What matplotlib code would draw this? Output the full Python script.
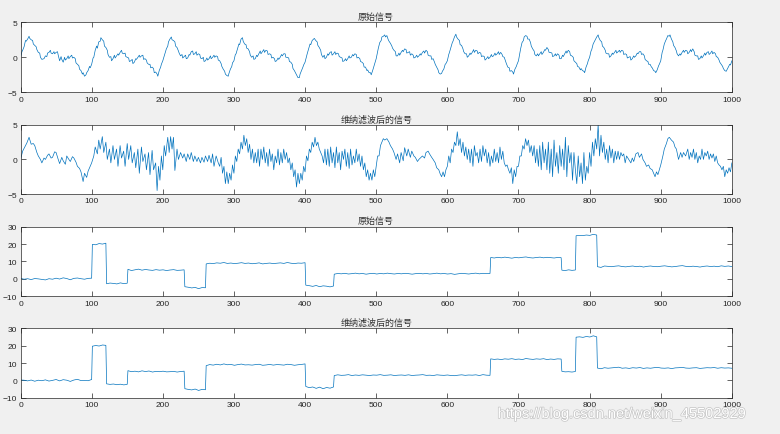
import numpy as np
import matplotlib
matplotlib.use('Agg')
import matplotlib.pyplot as plt
import matplotlib.patheffects as pe

plt.rcParams['font.family'] = ['Liberation Sans', 'Noto Sans CJK SC', 'DejaVu Sans']

titles = ['原始信号', '维纳滤波后的信号', '原始信号', '维纳滤波后的信号']
x_ticks = [0, 100, 200, 300, 400, 500, 600, 700, 800, 900, 1000]
y_ticks_small = [-5, 0, 5]
y_ticks_big = [-10, 0, 10, 20, 30]

# ---- signal 1 (original periodic signal): (sample, value)
sig1_pts = [(0,0),(2,0.8),(3,1.0),(5,1.5),(7,2.4),(8,2.3),(10,2.6),(12,3.0),(13,2.7),(15,2.5),(17,2.4),(18,1.9),
(20,1.7),(22,1.5),(23,1.1),(25,0.7),(27,0.6),(28,0.0),(30,-0.3),(33,-0.2),(35,0.2),(37,0.1),(38,0.6),(40,0.7),
(42,1.0),(43,0.6),(45,0.5),(47,0.8),(48,0.5),(50,0.7),(52,0.8),(53,0.3),(55,-0.5),(57,0.1),(58,-0.3),(60,-0.7),
(62,0.0),(63,-0.4),(65,-0.2),(67,0.2),(68,-0.2),(70,0.1),(72,0.3),(73,-0.1),(75,0.0),(77,-0.2),(78,-0.8),
(80,-1.0),(82,-1.2),(83,-1.7),(85,-1.9),(87,-2.4),(88,-2.2),(90,-2.7),(92,-2.5),(93,-2.2),(95,-1.9),(97,-1.3),
(98,-1.5),(100,-1.0),(102,-0.1),(103,0.0),(105,1.0),(107,1.6),(108,1.3),(110,2.2),(112,2.3),(113,2.8),(115,2.5),
(117,2.3),(118,1.6),(120,1.4),(122,1.0),(123,0.4),(125,0.0),(127,0.1),(128,-0.5),(130,-0.2),(132,0.3),(133,-0.1),
(135,0.2),(137,0.5),(138,0.3),(140,0.7),(142,1.0),(143,0.6),(145,0.5),(147,0.6),(148,0.1),(150,0.0),(152,-0.1),
(153,-0.6),(155,-0.5),(157,-0.3),(158,-0.9),(160,-0.7),(162,-0.2),(163,-0.3),(165,0.0),(167,0.3),(168,0.0),
(170,0.2),(172,0.3),(173,-0.3),(175,-0.2),(177,-0.4),(178,-0.8),(180,-1.0),(182,-1.0),(183,-1.5),(185,-1.4),
(187,-1.6),(188,-2.2),(190,-2.1),(192,-2.4),(193,-2.7),(195,-1.9),(197,-1.4),(198,-1.0),(200,-0.5),(202,0.2),
(203,0.5),(205,1.2),(207,1.6),(208,2.2),(210,2.6),(212,2.9),(213,2.5),(215,2.4),(217,2.2),(218,1.6),(220,1.4),
(222,0.9),(223,0.6),(225,0.2),(227,0.4),(228,-0.1),(230,0.1),(232,0.3),(233,-0.2),(235,-0.1),(237,0.4),(238,0.3),
(240,0.8),(242,0.9),(243,0.4),(245,0.5),(247,0.8),(248,0.3),(250,0.5),(252,0.4),(253,-0.1),(255,-0.2),(257,0.0),
(258,-0.6),(260,-0.5),(262,-0.1),(263,-0.4),(265,-0.2),(267,0.2),(268,-0.2),(270,0.0),(272,0.3),(273,0.0),
(275,0.2),(277,0.1),(278,-0.4),(280,-0.5),(282,-0.9),(283,-1.3),(285,-1.7),(287,-2.0),(288,-2.4),(290,-2.6),
(292,-2.7),(293,-2.3),(295,-1.7),(297,-1.3),(298,-0.8),(300,-0.5),(302,0.4),(303,0.5),(305,1.2),(307,1.9),
(308,1.8),(310,2.6),(312,2.8),(313,2.3),(315,1.9),(317,1.8),(318,1.3),(320,1.2),(322,0.8),(323,0.3),(325,0.0),
(327,0.2),(328,-0.3),(330,-0.2),(332,0.3),(333,0.1),(335,0.5),(337,0.9),(338,0.5),(340,0.8),(342,1.1),(343,0.7),
(345,1.0),(347,0.9),(348,0.4),(350,0.5),(352,0.4),(353,-0.1),(355,0.0),(357,-0.2),(358,-0.6),(360,-0.5),
(362,-0.1),(363,-0.3),(365,0.0),(367,0.4),(368,0.2),(370,0.5),(372,0.5),(373,0.0),(375,0.0),(377,-0.1),
(378,-0.6),(380,-0.7),(382,-1.0),(383,-1.6),(385,-1.9),(387,-2.3),(388,-2.5),(390,-2.9),(392,-2.9),(393,-2.4),
(395,-1.9),(397,-1.4),(398,-1.1),(400,-0.7),(402,0.1),(403,0.5),(405,1.2),(407,1.9),(408,1.8),(410,2.4),
(412,2.6),(413,2.7),(415,2.4),(417,2.2),(418,1.7),(420,1.4),(422,1.0),(423,0.4),(425,0.0),(427,0.3),(428,-0.2),
(430,0.0),(432,0.5),(433,0.3),(435,0.7),(437,0.8),(438,0.3),(440,0.5),(442,0.8),(443,0.4),(445,0.6),(447,0.5),
(448,0.1),(450,0.0),(452,-0.1),(453,-0.6),(455,-0.5),(457,-0.2),(458,-0.5),(460,-0.2),(462,0.2),(463,-0.1),
(465,0.0),(467,0.4),(468,0.2),(470,0.5),(472,0.4),(473,-0.1),(475,0.0),(477,-0.2),(478,-0.6),(480,-0.7),
(482,-0.9),(483,-1.4),(485,-1.4),(487,-1.9),(488,-1.8),(490,-2.2),(492,-2.2),(493,-2.5),(495,-1.9),(497,-1.2),
(498,-0.9),(500,-0.2),(502,0.8),(503,1.3),(505,2.1),(507,2.4),(508,2.9),(510,3.0),(512,3.2),(513,2.9),(515,3.1),
(517,2.5),(518,2.3),(520,2.0),(522,1.6),(523,1.3),(525,1.0),(527,0.8),(528,0.2),(530,0.2),(532,0.6),(533,0.3),
(535,0.7),(537,1.0),(538,0.8),(540,1.2),(542,1.1),(543,0.6),(545,0.7),(547,0.8),(548,0.3),(550,0.5),(552,0.3),
(553,-0.1),(555,0.0),(557,0.3),(558,0.0),(560,0.2),(562,0.5),(563,0.3),(565,0.7),(567,0.9),(568,0.6),(570,1.0),
(572,0.8),(573,0.3),(575,0.2),(577,0.2),(578,-0.3),(580,-0.2),(582,-0.7),(583,-1.0),(585,-1.4),(587,-1.8),
(588,-2.2),(590,-2.4),(592,-2.3),(593,-2.0),(595,-1.7),(597,-1.0),(598,-0.9),(600,-0.5),(602,0.4),(603,0.7),
(605,1.4),(607,2.1),(608,2.3),(610,2.9),(612,3.3),(613,2.9),(615,2.6),(617,2.4),(618,1.8),(620,1.7),(622,1.2),
(623,0.8),(625,0.5),(627,0.5),(628,0.0),(630,0.2),(632,0.6),(633,0.4),(635,0.7),(637,1.1),(638,0.7),(640,1.0),
(642,0.9),(643,0.5),(645,0.7),(647,0.6),(648,0.1),(650,0.2),(652,0.1),(653,-0.4),(655,-0.2),(657,0.1),
(658,-0.2),(660,0.0),(662,0.4),(663,0.1),(665,0.2),(667,0.6),(668,0.3),(670,0.5),(672,0.8),(673,0.4),(675,0.7),
(677,0.4),(678,0.1),(680,0.0),(682,-0.6),(683,-0.9),(685,-1.4),(687,-1.5),(688,-2.0),(690,-1.9),(692,-2.1),
(693,-2.4),(695,-1.7),(697,-1.3),(698,-1.0),(700,-0.5),(702,0.6),(703,1.2),(705,2.1),(707,2.4),(708,2.9),
(710,3.1),(712,3.0),(713,2.6),(715,2.6),(717,2.1),(718,1.6),(720,1.2),(722,0.9),(723,0.4),(725,0.2),(727,0.5),
(728,0.2),(730,0.5),(732,0.8),(733,0.4),(735,0.7),(737,1.1),(738,1.0),(740,1.4),(742,1.1),(743,0.7),(745,0.7),
(747,0.6),(748,0.1),(750,0.2),(752,0.5),(753,0.2),(755,0.5),(757,0.3),(758,-0.2),(760,-0.2),(762,0.3),(763,0.1),
(765,0.5),(767,0.9),(768,0.6),(770,1.0),(772,0.8),(773,0.3),(775,0.2),(777,0.0),(778,-0.5),(780,-0.7),
(782,-0.9),(783,-1.3),(785,-1.4),(787,-1.8),(788,-1.6),(790,-1.9),(792,-2.0),(793,-2.2),(795,-1.4),(797,-0.9),
(798,-0.5),(800,0.0),(802,0.9),(803,1.1),(805,1.9),(807,2.3),(808,2.5),(810,2.9),(812,3.2),(813,2.8),(815,2.4),
(817,2.2),(818,1.6),(820,1.4),(822,1.0),(823,0.6),(825,0.5),(827,0.5),(828,0.0),(830,0.2),(832,0.6),(833,0.4),
(835,0.7),(837,1.0),(838,0.6),(840,0.8),(842,1.0),(843,0.7),(845,1.0),(847,0.9),(848,0.4),(850,0.5),(852,0.4),
(853,-0.1),(855,0.0),(857,0.1),(858,-0.4),(860,-0.2),(862,0.2),(863,0.0),(865,0.2),(867,0.6),(868,0.5),
(870,0.8),(872,0.8),(873,0.4),(875,0.5),(877,0.2),(878,-0.3),(880,-0.5),(882,-0.6),(883,-1.0),(885,-1.0),
(887,-1.4),(888,-1.5),(890,-1.9),(892,-2.0),(893,-2.2),(895,-1.8),(897,-1.2),(898,-1.0),(900,-0.5),(902,0.7),
(903,1.0),(905,1.9),(907,2.4),(908,2.6),(910,3.1),(912,3.0),(913,3.2),(915,2.6),(917,2.2),(918,1.7),(920,1.4),
(922,0.9),(923,0.5),(925,0.2),(927,0.5),(928,0.3),(930,0.7),(932,1.0),(933,0.7),(935,1.0),(937,0.9),(938,0.5),
(940,0.7),(942,1.1),(943,0.8),(945,1.2),(947,0.8),(948,0.3),(950,0.2),(952,0.2),(953,-0.3),(955,-0.2),
(957,0.2),(958,-0.1),(960,0.2),(962,0.6),(963,0.3),(965,0.7),(967,0.8),(968,0.4),(970,0.6),(972,0.9),(973,0.5),
(975,0.7),(977,0.5),(978,0.1),(980,0.0),(982,-0.4),(983,-0.7),(985,-1.0),(987,-1.3),(988,-1.6),(990,-1.9),
(992,-2.0),(993,-1.8),(995,-1.4),(997,-1.0),(998,-1.1),(1000,-0.5)]

# ---- signal 2 (Wiener-filtered periodic signal)
sig2_pts = [(0,0),(3,1.2),(6,1.8),(9,2.4),(12,3.2),(15,2.2),(18,2.3),(20,2.0),(23,1.0),(25,0.5),(28,0.0),(30,-0.5),
(33,0.2),(35,0.0),(38,0.6),(40,0.8),(43,0.2),(45,0.3),(48,1.1),(50,1.0),(53,0.0),(55,-0.6),(58,0.3),(60,-0.2),
(63,-0.7),(65,0.5),(68,0.0),(70,-0.3),(73,0.4),(75,0.2),(78,-0.4),(80,-1.0),(83,-1.3),(85,-1.8),(88,-3.2),
(90,-2.0),(93,-2.6),(95,-1.7),(98,-1.0),(100,-0.5),(103,0.5),(105,1.8),(108,0.8),(110,2.8),(112,1.5),(115,3.3),
(117,1.0),(120,2.5),(122,0.0),(125,1.5),(127,-0.5),(130,2.0),(132,0.0),(135,1.5),(137,-1.0),(140,2.0),(142,0.2),
(145,1.2),(147,-1.0),(150,2.3),(152,0.0),(155,2.0),(157,-0.5),(160,1.0),(162,-1.2),(165,1.5),(167,-2.0),
(170,1.8),(172,-0.3),(175,0.8),(177,-1.5),(180,1.0),(182,-2.2),(185,1.3),(187,-1.5),(190,-0.5),(192,-4.5),
(194,-1.0),(196,-3.0),(198,0.5),(200,-1.5),(202,2.0),(204,0.5),(207,3.2),(209,1.0),(211,3.3),(213,1.5),
(215,3.2),(217,-1.6),(220,1.5),(222,0.0),(225,1.0),(228,0.2),(230,0.8),(233,-0.3),(235,0.8),(238,0.0),(240,1.0),
(243,-0.3),(245,0.5),(248,-0.3),(250,0.3),(253,-0.5),(255,0.3),(258,-0.4),(260,0.5),(263,-0.3),(265,0.6),
(268,-0.5),(270,0.8),(272,-1.0),(275,0.5),(278,-0.5),(280,-1.0),(282,0.3),(284,-2.0),(286,-1.0),(288,-3.5),
(290,-1.8),(292,-3.5),(294,-2.0),(296,-3.0),(298,-0.8),(300,-2.0),(302,0.5),(304,-0.3),(306,1.5),(308,0.8),
(310,2.5),(312,1.5),(314,3.5),(316,2.0),(318,3.0),(320,1.0),(322,2.2),(324,0.0),(326,1.5),(328,-0.5),(330,1.0),
(332,-0.5),(334,1.5),(336,-1.0),(338,1.5),(340,0.0),(342,1.8),(344,-0.5),(346,1.0),(348,-1.0),(350,1.5),
(352,-0.3),(354,0.8),(356,-1.5),(358,0.5),(360,-0.5),(362,1.5),(364,-0.8),(366,1.0),(368,-0.5),(370,1.5),
(372,0.0),(374,1.0),(376,-0.5),(378,0.2),(380,-1.5),(382,-0.5),(384,-2.5),(386,-1.5),(388,-4.0),(390,-2.0),
(392,-3.5),(394,-2.0),(396,-3.0),(398,-1.0),(400,-1.8),(402,0.5),(404,-0.2),(406,1.5),(408,1.0),(410,2.5),
(412,1.8),(414,3.2),(416,2.0),(418,2.5),(420,1.5),(422,1.0),(424,0.5),(426,-0.5),(428,1.5),(430,-0.8),(432,1.5),
(434,-1.0),(436,1.8),(438,-0.5),(440,1.0),(442,-1.2),(444,1.8),(446,-0.5),(448,1.0),(450,-1.5),(452,1.2),
(454,0.0),(456,1.5),(458,-1.0),(460,1.0),(462,-1.3),(464,1.5),(466,-0.8),(468,0.5),(470,-0.5),(472,1.5),
(474,-0.3),(476,0.8),(478,-1.0),(480,0.5),(482,-1.5),(484,-0.5),(486,-2.5),(488,-1.5),(490,-3.0),(492,-2.0),
(494,-3.0),(496,-1.5),(498,-2.5),(500,-1.0),(502,0.5),(504,0.5),(506,2.0),(508,2.5),(510,3.0),(512,2.8),
(515,3.0),(518,2.5),(520,2.0),(523,1.5),(525,1.0),(528,0.0),(530,0.8),(533,-0.5),(535,1.0),(538,-0.2),(540,1.7),
(543,0.5),(545,1.5),(548,0.3),(550,1.2),(553,0.5),(555,0.3),(558,-0.3),(560,0.0),(563,0.3),(565,0.5),(568,0.2),
(570,1.0),(573,1.2),(575,0.8),(578,0.3),(580,0.0),(583,-0.5),(585,-1.2),(588,-1.5),(590,-2.1),(592,-2.5),
(594,-1.8),(596,-2.5),(598,-1.5),(600,-1.0),(602,0.5),(604,-0.5),(606,1.5),(608,1.0),(610,2.5),(612,2.0),
(614,4.0),(616,2.0),(618,3.0),(620,1.0),(622,2.5),(624,0.5),(626,1.8),(628,0.0),(630,1.5),(632,-0.5),(634,1.5),
(636,-1.0),(638,2.0),(640,0.5),(642,1.0),(644,-0.5),(646,1.5),(648,-0.3),(650,2.0),(652,0.5),(654,1.5),
(656,-0.5),(658,1.0),(660,-1.0),(662,0.5),(664,-0.5),(666,1.5),(668,-0.3),(670,1.0),(672,-0.5),(674,1.8),
(676,0.0),(678,1.2),(680,-0.5),(682,-1.0),(684,-0.8),(686,-1.5),(688,-2.0),(690,-1.2),(692,-3.5),(694,-1.5),
(696,-2.5),(698,-1.0),(700,-1.0),(702,0.5),(704,0.5),(706,2.0),(708,1.5),(710,3.0),(712,2.0),(714,2.8),
(716,1.0),(718,2.0),(720,0.5),(722,2.0),(724,-0.5),(726,1.5),(728,-1.0),(730,2.0),(732,-1.5),(734,2.5),
(736,-0.5),(738,1.5),(740,-1.5),(742,2.5),(744,-2.0),(746,1.5),(748,-2.5),(750,2.8),(752,-1.0),(754,1.0),
(756,-2.0),(758,2.0),(760,-1.0),(762,1.5),(764,-1.5),(766,3.2),(768,-2.5),(770,2.0),(772,-0.5),(774,1.0),
(776,-3.0),(778,1.0),(780,-1.5),(782,-3.5),(784,0.5),(786,-2.5),(788,-0.5),(790,-3.5),(792,1.0),(794,-3.0),
(796,-1.0),(798,-2.0),(800,1.0),(802,-1.0),(804,2.5),(806,0.5),(808,3.0),(810,1.5),(812,5.0),(814,0.5),
(816,3.5),(818,1.0),(820,2.5),(822,0.0),(824,1.5),(826,-0.5),(828,2.0),(830,0.2),(832,1.5),(834,-0.5),
(836,1.2),(838,0.0),(840,1.2),(842,0.0),(844,1.0),(846,0.5),(848,0.8),(850,-0.5),(852,0.5),(855,0.0),
(858,-0.5),(860,0.2),(862,-0.3),(865,0.8),(868,1.0),(870,0.3),(873,0.8),(875,0.0),(878,-0.5),(880,-1.0),
(883,-0.8),(885,-1.3),(888,-1.5),(890,-2.0),(892,-2.5),(894,-1.8),(896,-2.2),(898,-1.5),(900,-0.8),(903,0.5),
(905,1.5),(908,2.3),(910,3.0),(912,3.2),(915,2.8),(918,2.5),(920,1.8),(922,1.5),(925,0.0),(928,1.0),(930,0.3),
(932,1.0),(935,0.5),(938,1.5),(940,0.0),(942,1.0),(944,0.3),(946,1.5),(948,0.0),(950,1.0),(952,-0.5),
(954,0.5),(956,0.0),(958,1.5),(960,0.0),(962,1.0),(964,0.5),(966,1.2),(968,0.0),(970,0.8),(972,0.2),(974,0.8),
(976,-0.3),(978,0.5),(980,-0.5),(982,-0.8),(984,-1.0),(986,-1.5),(988,-1.0),(990,-2.5),(992,-1.5),(994,-2.0),
(996,-1.2),(998,-1.8),(1000,-0.5)]

# ---- step signals: segment boundaries (sample index) and readings inside each segment
step_edges = [0, 100, 120, 150, 230, 260, 400, 440, 660, 760, 780, 810, 1000]
sig3_segments = [
    [0.3,-0.2,0.1,-0.4,0.2,0.0,-0.3,-0.6,0.1,-0.2,0.4,-0.1,0.6,0.2,-0.5,0.3,0.5,0.1,-0.2,0.3,0.4],
    [19.8,19.6,20.3,20.0,20.5],
    [-2.8,-2.4,-2.6,-2.9,-2.3,-2.7,-2.5],
    [5.5,4.8,5.2,5.6,5.0,5.4,5.1,4.9,5.3,5.0,5.2,4.8,5.1,5.3,4.9,5.0,5.2],
    [-4.5,-4.8,-5.2,-4.9,-5.6,-5.0,-5.1],
    [8.6,9.0,8.8,9.2,9.0,9.4,8.9,9.1,8.8,9.0,9.3,8.9,9.1,8.7,8.9,9.2,8.6,8.9,9.1,8.8,9.0,9.2,8.9,9.4,9.0,8.8,9.1,9.0,9.3],
    [-3.6,-3.9,-4.3,-3.8,-4.5,-4.0,-4.2,-4.6,-4.1],
    [2.7,3.1,2.9,3.2,2.8,3.0,3.3,2.9,3.1,2.7,3.0,3.2,2.8,3.1,2.9,3.3,3.0,2.8,3.1,2.9,3.2,3.0,2.7,3.0,3.2,2.9,3.1,
     2.8,3.0,3.3,2.9,3.1,2.8,3.0,2.6,2.9,3.2,3.0,2.8,3.1,3.3,2.9,3.2,3.0,3.1],
    [12.3,12.0,12.4,12.1,12.5,12.2,11.9,12.3,12.1,12.4,12.6,12.2,12.0,12.3,12.5,12.1,12.4,12.2,12.0,12.3,12.2],
    [5.0,4.8,5.2,4.9,5.1],
    [24.8,25.0,24.9,25.2,25.0,25.6,25.2],
    [7.0,6.6,7.4,7.2,7.0,7.3,7.5,7.1,6.9,7.2,7.4,7.0,7.3,6.8,7.2,7.4,7.1,7.0,7.3,7.5,7.2,6.9,7.1,7.4,7.6,7.2,7.0,
     7.3,7.1,6.8,7.2,7.4,7.1,7.3,7.0,7.5,7.2,7.4,7.1],
]
sig4_segments = [
    [0.2,0.1,-0.3,0.2,-0.5,0.1,-0.2,0.3,-0.4,0.0,0.5,-0.3,0.4,0.1,-0.6,0.2,0.6,-0.1,0.0,-0.2,0.5],
    [19.7,20.1,19.8,20.4,20.2],
    [-2.0,-2.3,-2.1,-2.5,-2.2,-2.6,-2.3],
    [5.6,5.0,5.3,4.9,5.5,5.1,5.4,4.8,5.2,5.0,5.3,4.9,5.0,5.2,4.8,5.1,5.3],
    [-4.8,-5.2,-5.5,-5.0,-5.8,-5.2,-5.4],
    [8.5,9.1,8.8,9.3,8.9,9.5,9.0,9.2,8.7,9.1,9.4,8.9,9.0,8.8,9.1,9.3,8.7,8.9,9.2,8.8,9.1,9.0,8.8,9.3,9.1,8.7,9.0,9.2,9.5],
    [-3.5,-4.2,-3.8,-4.6,-3.9,-4.8,-4.1,-4.5,-3.8],
    [2.8,3.2,2.9,3.0,3.3,2.8,3.1,2.9,3.2,3.0,2.8,3.1,3.0,3.3,2.9,3.0,3.2,2.8,3.0,3.1,2.9,3.2,2.8,3.0,3.1,3.3,2.9,
     3.0,2.8,3.2,3.0,2.9,3.1,2.8,2.7,3.0,3.2,2.9,3.1,3.0,3.2,2.8,3.3,3.0,2.9],
    [12.4,12.1,12.3,12.0,12.4,12.2,12.5,12.1,12.3,12.0,12.6,12.3,12.1,12.4,12.2,12.5,12.0,12.3,12.1,12.4,12.3],
    [5.2,4.9,5.0,4.8,5.1],
    [24.9,25.1,24.8,25.3,25.0,25.7,25.1],
    [7.1,6.7,7.3,7.0,7.2,7.4,7.6,7.0,7.2,6.9,7.3,7.1,7.4,6.9,7.2,7.0,7.3,7.5,7.1,7.0,7.2,6.8,7.2,7.3,7.5,7.1,7.0,
     7.2,7.3,6.9,7.1,7.3,7.2,7.4,7.0,7.3,7.1,7.2,7.0],
]

watermark = 'https://blog.csdn.net/weixin_45502929'


def step_series(segments):
    n_all, v_all = [], []
    for i, vals in enumerate(segments):
        start = step_edges[i] if i == 0 else step_edges[i] + 1
        n_all.append(np.linspace(start, step_edges[i + 1], len(vals)))
        v_all.append(np.asarray(vals, dtype=float))
    return np.concatenate(n_all), np.concatenate(v_all)


s1n, s1v = np.array(sig1_pts).T
s2n, s2v = np.array(sig2_pts).T
s3n, s3v = step_series(sig3_segments)
s4n, s4v = step_series(sig4_segments)

series = [(s1n, s1v), (s2n, s2v), (s3n, s3v), (s4n, s4v)]
ylims = [(-5, 5), (-5, 5), (-10, 30), (-10, 30)]
yticks = [y_ticks_small, y_ticks_small, y_ticks_big, y_ticks_big]

fig = plt.figure(figsize=(7.8, 4.35), dpi=100, facecolor='#f0f0f0')
positions = [
    (0.0263, 0.7855, 0.912, 0.161),
    (0.0263, 0.5517, 0.912, 0.159),
    (0.0263, 0.3166, 0.912, 0.160),
    (0.0263, 0.0834, 0.912, 0.1595),
]
axis_col = '#262626'
for pos, (n, v), yl, yt, title in zip(positions, series, ylims, yticks, titles):
    ax = fig.add_axes(pos)
    ax.set_facecolor('white')
    ax.plot(n, v, color='#0072BD', lw=0.5)
    ax.set_xlim(0, 1000)
    ax.set_ylim(*yl)
    ax.set_xticks(x_ticks)
    ax.set_yticks(yt)
    ax.tick_params(direction='in', top=True, right=True, length=3.5, width=0.5,
                   labelsize=6, pad=2.5, colors=axis_col)
    for s in ax.spines.values():
        s.set_linewidth(0.5)
        s.set_color(axis_col)
    ax.set_title(title, fontsize=6.5, pad=2.5, color='#333333')

fig.text(0.638, 0.046, watermark, fontsize=10.5, color='white', ha='left', va='center',
         path_effects=[pe.withStroke(linewidth=1.0, foreground='#c4c4c4')])

fig.savefig('out.png', dpi=100, facecolor=fig.get_facecolor())
